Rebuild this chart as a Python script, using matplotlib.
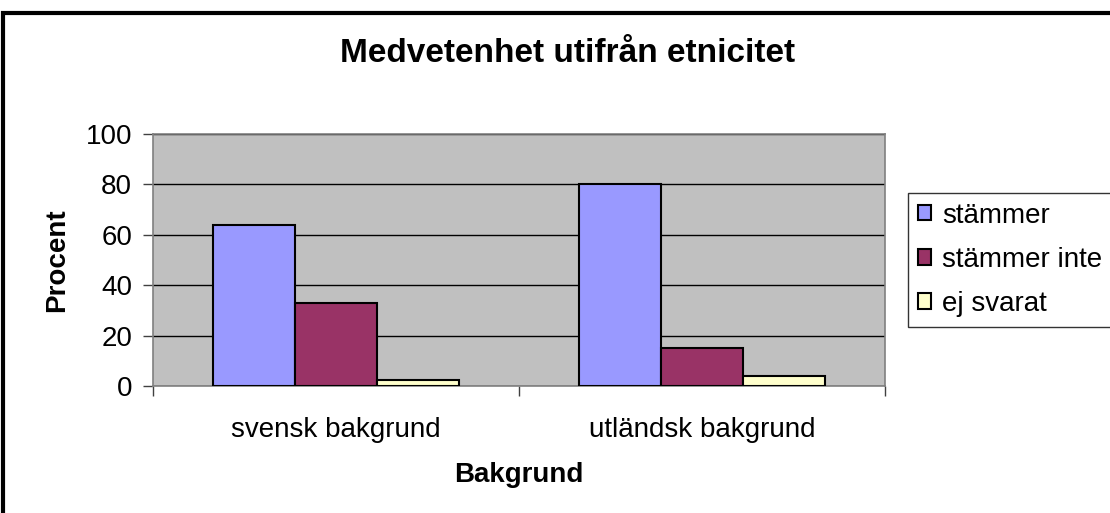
import numpy as np
import matplotlib.pyplot as plt
from matplotlib.patches import Rectangle

plt.rcParams['font.family'] = ['Liberation Sans', 'DejaVu Sans']

categories = ['svensk bakgrund', 'utländsk bakgrund']
series = ['stämmer', 'stämmer inte', 'ej svarat']
values = {
    'stämmer': [64, 80],
    'stämmer inte': [33, 15],
    'ej svarat': [2.5, 4],
}
colors = ['#9999FF', '#993366', '#FFFFCC']
yticks = [0, 20, 40, 60, 80, 100]

fig = plt.figure(figsize=(11.1, 5.13), dpi=100)
ax = fig.add_axes([153/1110, 127/513, 732/1110, 252/513])
ax.set_facecolor('#C0C0C0')

x = np.arange(len(categories))
w = 0.224
for i, s in enumerate(series):
    ax.bar(x + (i - 1) * w, values[s], w, color=colors[i], edgecolor='black',
           linewidth=1.5, label=s, zorder=3)

ax.set_xlim(-0.5, 1.5)
ax.set_ylim(0, 100)
ax.set_yticks(yticks)
ax.set_yticklabels([str(t) for t in yticks], fontsize=20)
ax.yaxis.grid(True, color='black', linewidth=1, zorder=1)
ax.set_xticks(x)
ax.set_xticklabels(categories, fontsize=20)
ax.tick_params(axis='x', length=0, pad=22)
ax.set_xticks([-0.5, 0.5, 1.5], minor=True)
ax.tick_params(axis='x', which='minor', length=7, width=1, color='#404040', direction='out')
ax.tick_params(axis='y', length=7, width=1, color='#404040', direction='out', pad=8)
for sp in ax.spines.values():
    sp.set_color('#808080')
    sp.set_linewidth(1.2)

fig.text(57/1110, 1 - 260/513, 'Procent', fontsize=20, fontweight='bold',
         rotation=90, ha='center', va='center')
fig.text(519/1110, 1 - 475/513, 'Bakgrund', fontsize=20, fontweight='bold',
         ha='center', va='center')
fig.text(568/1110, 1 - 54/513, 'Medvetenhet utifrån etnicitet', fontsize=24,
         fontweight='bold', ha='center', va='center')

leg = fig.legend(loc='upper left', bbox_to_anchor=(908/1110, 1 - 193/513),
                 fontsize=20, frameon=True, fancybox=False, edgecolor='black',
                 handlelength=0.47, handleheight=0.47, handletextpad=0.4,
                 labelspacing=0.65, borderpad=0.35, borderaxespad=0)
leg.get_frame().set_linewidth(1)

fig.patches.append(Rectangle((3/1110, -0.1), 1.2, 1 - 13/513 + 0.1,
                             transform=fig.transFigure, fill=False,
                             edgecolor='black', linewidth=3))

fig.savefig('out.png', dpi=100)
